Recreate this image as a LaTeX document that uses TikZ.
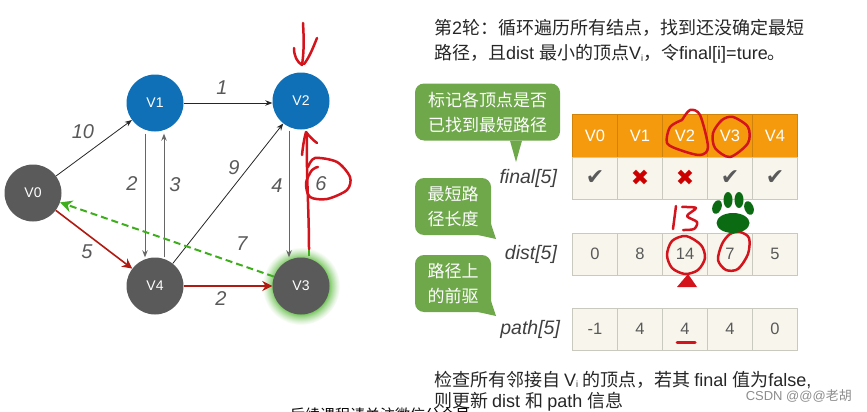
\documentclass[tikz,border=0pt]{standalone}
\usepackage{fontspec}
\setmainfont{Liberation Sans}
\newfontfamily\cjk{Noto Sans CJK SC}
\newfontfamily\symb{DejaVu Sans}
\usetikzlibrary{arrows.meta, positioning}
\definecolor{vblue}{HTML}{0F70B7}
\definecolor{vgray}{HTML}{5A5A5A}
\definecolor{darkred}{HTML}{B01A10}
\definecolor{inkred}{HTML}{D3141C}
\definecolor{bubble}{HTML}{6FA84B}
\definecolor{headfill}{HTML}{F59A0C}
\definecolor{cellfill}{HTML}{F8F6EC}
\definecolor{cellline}{HTML}{C9C9C0}
\definecolor{dgreen}{HTML}{3FAE1C}
\definecolor{paw}{HTML}{0B6B12}
\pgfdeclareradialshading{glowring}{\pgfpointorigin}{
  color(0bp)=(dgreen!70!white);
  color(18bp)=(dgreen!70!white);
  color(20bp)=(dgreen!45!white);
  color(23bp)=(dgreen!15!white);
  color(25bp)=(white);
  color(50bp)=(white)}
\tikzset{
  %% Graph vertex
  vert/.style={
    circle, fill=#1, text=white, minimum size=57pt,
    inner sep=0pt, font=\fontsize{14}{14}\selectfont
  },
  vert/.default=vgray,
  glowdisc/.style={circle, shading=glowring, minimum size=78pt, inner sep=0pt},
  %% Arrows
  arr/.style={-{Stealth[length=7pt,width=5.5pt]},
              draw=black!85, line width=0.8pt},
  grr/.style={-{Stealth[length=7pt,width=5.5pt]},
              draw=black!60, line width=1pt},
  rarr/.style={-{Stealth[length=10pt,width=10pt]},
              draw=darkred, line width=1.6pt},
  dasharr/.style={-{Stealth[length=12pt,width=12pt]},
              draw=dgreen, line width=2pt, dash pattern=on 7pt off 4pt},
  %% Edge weight
  wlabel/.style={font=\itshape\fontsize{20}{20}\selectfont, text=black!65, inner sep=0pt},
  %% Table cells
  headcell/.style={
    rectangle, fill=headfill, draw=headfill!85!black, line width=0.3pt,
    minimum width=45pt, minimum height=43pt, inner sep=0pt,
    text=white, font=\fontsize{16.5}{16.5}\selectfont
  },
  valcell/.style={
    rectangle, fill=cellfill, draw=cellline, line width=0.7pt,
    minimum width=45pt, minimum height=42pt, inner sep=0pt,
    text=black!65, font=\fontsize{16.5}{16.5}\selectfont
  },
  marker/.style={font=\symb\fontsize{22}{22}\selectfont, text=#1},
  tname/.style={font=\itshape\fontsize{19.5}{19.5}\selectfont, text=black!75, inner sep=0pt},
  %% Green speech bubble
  bubbletxt/.style={
    rectangle, rounded corners=9pt, fill=bubble, text=white,
    align=center, inner sep=0pt,
    font=\cjk\fontsize{17}{25}\selectfont
  },
  intro/.style={anchor=west, inner sep=0pt, font=\fontsize{18}{18}\selectfont, text=black!85},
  ink/.style={draw=inkred, line width=2.5pt, line cap=round, line join=round},
}
\newcommand{\zh}[1]{{\cjk #1}}
\newcommand{\subi}{\raisebox{-1.5pt}{\fontsize{9}{9}\selectfont i}}
\begin{document}
\begin{tikzpicture}[x=1pt,y=-1pt]
  \useasboundingbox (0,0) rectangle (867,412);

  %% Graph
  \node[glowdisc] at (301,286) (halo) {};
  \node[vert] at (301,286) (v3) {V3};
  \node[vert=vblue] at (155,103) (v1) {V1};
  \node[vert=vblue] at (301,101) (v2) {V2};
  \node[vert] at (33,193) (v0) {V0};
  \node[vert] at (155,286) (v4) {V4};

  \draw[arr] (v0) -- (v1);
  \draw[arr] (v1.east) -- (v2.west |- v1.east);
  \draw[grr] ([xshift=-10pt,yshift=-2pt]v1.south) -- ([xshift=-10pt]v4.north);
  \draw[grr] ([xshift=9pt]v4.north) -- ([xshift=9pt,yshift=-2pt]v1.south);
  \draw[arr] (v4) -- (v2);
  \draw[grr] ([xshift=-12pt,yshift=-1pt]v2.south) -- ([xshift=-12pt]v3.north);
  \draw[rarr] (v0) -- (v4);
  \draw[rarr] (v4) -- (v3);
  \draw[dasharr] (v3) -- (v0);
  \draw[draw=dgreen, line width=2pt] ([xshift=8pt,yshift=1pt]v3.north) -- ++(0,-7);

  \node[wlabel] at (83,132) (w01) {10};
  \node[wlabel] at (222,88) (w12) {1};
  \node[wlabel] at (132,184) (w14) {2};
  \node[wlabel] at (175,185) (w41) {3};
  \node[wlabel] at (234,168) (w42) {9};
  \node[wlabel] at (277,186) (w23) {4};
  \node[wlabel] at (321,184) (w32) {6};
  \node[wlabel] at (87,252) (w04) {5};
  \node[wlabel] at (221,299) (w43) {2};
  \node[wlabel] at (242,244) (w30) {7};

  %% Handwriting on the graph
  \draw[ink] (303,23) .. controls (304,40) and (304,52) .. (302,65)
    .. controls (297,62) and (294,56) .. (294,48);
  \draw[ink] (304,64) .. controls (309,58) and (313,48) .. (317,38);
  \draw[ink] (309,249) .. controls (309,210) and (306,170) .. (307,133);
  \draw[ink] (302,155) .. controls (303,146) and (304,139) .. (306,132)
    .. controls (309,136) and (313,140) .. (317,143);
  \draw[ink] plot[smooth] coordinates {(308,167) (315,158) (337,162) (350,177)
    (347,190) (327,199) (310,197) (306,183) (312,170) (318,167)};

  %% Intro text
  \node[intro] at (434,28) (top1) {\zh{第}2\zh{轮：循环遍历所有结点，找到还没确定最短}};
  \node[intro] at (434,54) (top2) {\zh{路径，且}dist \zh{最小的顶点}V\subi\zh{，令}final[i]=ture\zh{。}};

  %% Tables
  \foreach \n [count=\i from 0] in {V0,V1,V2,V3,V4}
    \node[headcell] at (595+\i*45,136) (h\i) {\n};
  \foreach \i in {0,...,4}
    \node[valcell] at (595+\i*45,178) (f\i) {};
  \foreach \v [count=\i from 0] in {0,8,14,7,5}
    \node[valcell] at (595+\i*45,254) (d\i) {\v};
  \foreach \v [count=\i from 0] in {-1,4,4,4,0}
    \node[valcell] at (595+\i*45,329) (p\i) {\v};

  \node[marker=vgray] at (f0) (m0) {✔};
  \node[marker=red!80!black] at (f1) (m1) {✖};
  \node[marker=red!80!black] at (f2) (m2) {✖};
  \node[marker=vgray] at (f3) (m3) {✔};
  \node[marker=vgray] at (f4) (m4) {✔};

  \node[tname, left=15pt of f0.west] (lfinal) {final[5]};
  \node[tname, left=15pt of d0.west] (ldist) {dist[5]};
  \node[tname, left=12pt of p0.west] (lpath) {path[5]};

  %% Bubbles
  \node[bubbletxt, minimum width=145pt, minimum height=57pt] at (487.5,112) (b1)
       {标记各顶点是否\\已找到最短路径};
  \fill[bubble] ([xshift=-6pt]b1.south -| 516,0) -- ([xshift=6pt]b1.south -| 516,0) -- (516,162) -- cycle;
  \node[bubbletxt, minimum width=76pt, minimum height=57pt] at (453,206.5) (b2)
       {最短路\\径长度};
  \fill[bubble] (478,235) -- (491,224) -- (496,239) -- cycle;
  \node[bubbletxt, minimum width=76pt, minimum height=57pt] at (453,283.5) (b3)
       {路径上\\的前驱};
  \fill[bubble] (478,312) -- (491,301) -- (496,316) -- cycle;

  %% Handwriting on the tables
  \draw[ink] plot[smooth] coordinates {(682,120) (690,110) (700,115) (708,147)
    (700,155) (680,150) (667,143) (670,127) (682,120)};
  \draw[ink] plot[smooth cycle] coordinates {(733,117) (748,127) (748,143)
    (730,157) (715,148) (713,133) (722,120)};
  \draw[ink] plot[smooth cycle] coordinates {(686,236) (701,245) (705,258)
    (698,270) (685,274) (672,268) (667,255) (672,241)};
  \draw[ink] plot[smooth cycle] coordinates {(740,232) (749,238) (748,254)
    (738,269) (726,270) (718,260) (722,244) (730,234)};
  \draw[ink] (676,206) -- (673,229);
  \draw[ink] plot[smooth] coordinates {(682,207) (696,208) (687,216) (697,222)
    (694,229) (683,230)};
  \fill[inkred] (688,274) -- (697,287) -- (677,287) -- cycle;
  \draw[ink, line width=3pt] (677,342) -- (695,342);

  %% Paw
  \fill[paw, rotate around={-20:(717,207)}] (717,207) ellipse (4.5pt and 7pt);
  \fill[paw] (728,200) ellipse (4.5pt and 8pt);
  \fill[paw] (739,200) ellipse (4.5pt and 8pt);
  \fill[paw, rotate around={20:(749,208)}] (749,208) ellipse (4.5pt and 7pt);
  \fill[paw] (733,223) ellipse (16.5pt and 10pt);

  %% Bottom text
  \node[intro] at (434,380) (bot1) {\zh{检查所有邻接自 }V\subi\zh{ 的顶点，若其 }final \zh{值为}false,};
  \node[intro] at (434,402) (bot2) {\zh{则更新 }dist \zh{和 }path \zh{信息}};
  \node[font=\cjk\fontsize{15}{15}\selectfont, text=black, anchor=west, inner sep=0pt] at (290,415) (cut) {后续课程请关注微信公众号};
  \node[font=\fontsize{13}{13}\selectfont, text=black!45, anchor=east, inner sep=0pt] at (852,396) (mark) {CSDN @@@\zh{老胡}};
\end{tikzpicture}
\end{document}
